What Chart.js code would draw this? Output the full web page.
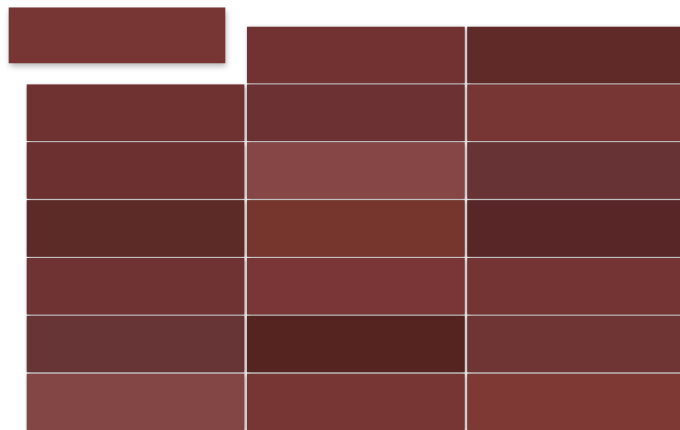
<!DOCTYPE html>
<html>
<head>
<meta charset="utf-8">
<script src="https://cdn.jsdelivr.net/npm/chart.js@4.4.1/dist/chart.umd.min.js"></script>
<style>
  html, body { margin: 0; padding: 0; background: #fff; }
  #wrap { width: 680px; height: 430px; position: relative; }
</style>
</head>
<body>
<div id="wrap"><canvas id="chips"></canvas></div>
<script>
// chip colours, one list per column, top row first (null = empty slot)
const columns = ["col1", "col2", "col3"];
const rows = ["r1", "r2", "r3", "r4", "r5", "r6", "r7"];
const col1Colors = [null, "#6f3231", "#6c3030", "#5c2a27", "#703333", "#673535", "#844645"];
const col2Colors = ["#723231", "#6c3132", "#874646", "#76362e", "#7a3636", "#552420", "#773634"];
const col3Colors = ["#602a28", "#773634", "#683334", "#592628", "#733433", "#6f3434", "#7e3934"];
// the chip lifted out of the empty slot
const liftedColor = "#773634";
const liftedFrom = { col: 0, row: 0 };

// layout (kept out of the data)
const ROW_FILL = 0.965;   // chip height as share of the row pitch
const CHIP_W = 217;       // chip width, px
const LIFT = { dx: -0.084, dy: -0.33 };

const colorLists = [col1Colors, col2Colors, col3Colors];
const datasets = colorLists.map((list, c) => {
    const cells = list.map((color, r) => ({ color, r })).filter(d => d.color);
    return {
        label: columns[c],
        data: cells.map(d => ({ x: c + 0.5, y: [d.r, d.r + ROW_FILL] })),
        backgroundColor: cells.map(d => d.color),
        barThickness: CHIP_W,
        grouped: false,
        borderWidth: 0
    };
});
datasets.push({
    label: "lifted",
    data: [{
        x: liftedFrom.col + 0.5 + LIFT.dx,
        y: [liftedFrom.row + LIFT.dy, liftedFrom.row + LIFT.dy + 0.951]
    }],
    backgroundColor: liftedColor,
    barThickness: 216,
    grouped: false,
    borderWidth: 0
});

// soft shadow under every chip, drawn before the chips themselves
const chipShadow = {
    id: "chipShadow",
    beforeDatasetsDraw(chart) {
        const ctx = chart.ctx;
        ctx.save();
        chart.getSortedVisibleDatasetMetas().forEach(meta => {
            const lifted = meta.index === datasets.length - 1;
            ctx.shadowColor = lifted ? "rgba(0,0,0,0.30)" : "rgba(0,0,0,0.42)";
            ctx.shadowBlur = lifted ? 6 : 4;
            ctx.shadowOffsetX = lifted ? 1 : 0.5;
            ctx.shadowOffsetY = lifted ? 3 : 1;
            meta.data.forEach(bar => {
                const p = bar.getProps(["x", "y", "base", "width"], true);
                ctx.fillStyle = bar.options.backgroundColor;
                ctx.fillRect(p.x - p.width / 2, Math.min(p.y, p.base), p.width, Math.abs(p.base - p.y));
            });
        });
        ctx.restore();
    }
};

new Chart(document.getElementById("chips"), {
    type: "bar",
    data: { datasets },
    options: {
        responsive: true,
        maintainAspectRatio: false,
        animation: false,
        events: [],
        layout: { padding: 0 },
        plugins: { legend: { display: false }, tooltip: { enabled: false } },
        scales: {
            x: { type: "linear", offset: false, min: -0.1151, max: 2.9716, display: false },
            y: { type: "linear", reverse: true, min: -0.4669, max: 6.9687, display: false }
        }
    },
    plugins: [chipShadow]
});
</script>
</body>
</html>
